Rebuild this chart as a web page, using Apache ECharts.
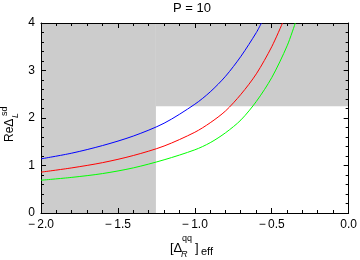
<!DOCTYPE html>
<html>
<head>
<meta charset="utf-8">
<script src="https://cdn.jsdelivr.net/npm/echarts@6/dist/echarts.min.js"></script>
<style>html,body{margin:0;padding:0;background:#fff}#c{width:360px;height:260px}</style>
</head>
<body>
<div id="c"></div>
<script>
var titleText = 'P = 10';
var xTicks = [-2.0, -1.5, -1.0, -0.5, 0.0];
var yTicks = [0, 1, 2, 3, 4];
var xCut = -1.253;
var yCut = 2.25;
var blueX = [-2.0, -1.8, -1.6, -1.4, -1.2, -1.0, -0.9, -0.8, -0.7, -0.6, -0.567];
var blueY = [1.14, 1.26, 1.42, 1.62, 1.89, 2.29, 2.55, 2.88, 3.30, 3.80, 4.0];
var redX = [-2.0, -1.8, -1.6, -1.4, -1.2, -1.0, -0.9, -0.8, -0.7, -0.6, -0.5, -0.43];
var redY = [0.86, 0.95, 1.06, 1.21, 1.41, 1.70, 1.90, 2.15, 2.50, 2.93, 3.50, 4.0];
var greenX = [-2.0, -1.8, -1.6, -1.4, -1.2, -1.0, -0.9, -0.8, -0.7, -0.6, -0.5, -0.4, -0.347];
var greenY = [0.69, 0.75, 0.83, 0.95, 1.12, 1.33, 1.48, 1.69, 1.96, 2.35, 2.85, 3.52, 4.0];

function pairs(xs, ys) { return xs.map(function (x, i) { return [x, ys[i]]; }); }
var FONT = 'Liberation Sans';
function fmtX(v) { return (v < 0 ? '\u2212\u2009' : '') + Math.abs(v).toFixed(1); }

var xMin = xTicks[0], xMax = xTicks[xTicks.length - 1];
var yMin = yTicks[0], yMax = yTicks[yTicks.length - 1];
var xStep = xTicks[1] - xTicks[0], yStep = yTicks[1] - yTicks[0];
var grayRects = [[xMin, yMin, xCut, yMax], [xCut, yCut, xMax, yMax]];

// minor tick positions: [x, y, side] side 0=bottom 1=top 2=left 3=right
var MINOR = 5;
var minorData = [];
(function () {
  var i, k, v;
  for (i = 0; i < xTicks.length - 1; i++) for (k = 1; k < MINOR; k++) {
    v = xTicks[i] + k * xStep / MINOR;
    minorData.push([v, yMin, 0]); minorData.push([v, yMax, 1]);
  }
  for (i = 0; i < yTicks.length - 1; i++) for (k = 1; k < MINOR; k++) {
    v = yTicks[i] + k * yStep / MINOR;
    minorData.push([xMin, v, 2]); minorData.push([xMax, v, 3]);
  }
})();

var chart = echarts.init(document.getElementById('c'), null, {renderer: 'canvas'});

function axisBase(extra) {
  return Object.assign({
    type: 'value',
    axisLine: {show: true, onZero: false, lineStyle: {color: '#000', width: 1}},
    axisTick: {show: true, inside: true, length: 5, lineStyle: {color: '#000', width: 1}},
    splitLine: {show: false}
  }, extra);
}

chart.setOption({
  animation: false,
  grid: {left: 41, right: 11, top: 23, bottom: 47},
  xAxis: [
    axisBase({min: xMin, max: xMax, interval: xStep, position: 'bottom',
      axisLabel: {show: true, margin: 6, color: '#000', fontSize: 12, fontFamily: FONT, formatter: fmtX}}),
    axisBase({min: xMin, max: xMax, interval: xStep, position: 'top', axisLabel: {show: false}})
  ],
  yAxis: [
    axisBase({min: yMin, max: yMax, interval: yStep, position: 'left',
      axisLabel: {show: true, margin: 6, color: '#000', fontSize: 12, fontFamily: FONT}}),
    axisBase({min: yMin, max: yMax, interval: yStep, position: 'right', axisLabel: {show: false}})
  ],
  series: [
    {type: 'custom', silent: true, z: 0, clip: false,
      data: grayRects,
      renderItem: function (params, api) {
        var p0 = api.coord([api.value(0), api.value(1)]);
        var p1 = api.coord([api.value(2), api.value(3)]);
        return {type: 'rect',
          shape: {x: Math.min(p0[0], p1[0]), y: Math.min(p0[1], p1[1]),
                  width: Math.abs(p1[0] - p0[0]), height: Math.abs(p1[1] - p0[1])},
          style: {fill: '#cccccc'}};
      }},
    {type: 'line', data: pairs(blueX, blueY), smooth: 0.3, showSymbol: false,
      lineStyle: {color: '#0000ff', width: 1}},
    {type: 'line', data: pairs(redX, redY), smooth: 0.3, showSymbol: false,
      lineStyle: {color: '#ff0000', width: 1}},
    {type: 'line', data: pairs(greenX, greenY), smooth: 0.3, showSymbol: false,
      lineStyle: {color: '#00ff00', width: 1}},
    {type: 'custom', clip: false, data: minorData,
      renderItem: function (params, api) {
        var p = api.coord([api.value(0), api.value(1)]);
        var side = api.value(2), L = 3;
        var x = Math.floor(p[0]) + 0.5, y = Math.floor(p[1]) + 0.5;
        var s;
        if (side === 0) s = {x1: x, y1: p[1], x2: x, y2: p[1] - L};
        else if (side === 1) s = {x1: x, y1: p[1], x2: x, y2: p[1] + L};
        else if (side === 2) s = {x1: p[0], y1: y, x2: p[0] + L, y2: y};
        else s = {x1: p[0], y1: y, x2: p[0] - L, y2: y};
        return {type: 'line', shape: s, style: {stroke: '#000', lineWidth: 1}};
      }}
  ],
  graphic: [
    {type: 'text', x: 192, y: 8, style: {text: titleText, fontSize: 13, fontFamily: FONT, fill: '#000', align: 'center', verticalAlign: 'middle'}},
    {type: 'text', x: 170, y: 248, style: {text: '[\u0394', fontSize: 13, fontFamily: FONT, fill: '#000', align: 'left', verticalAlign: 'middle'}},
    {type: 'text', x: 182, y: 239, style: {text: 'qq', fontSize: 9, fontFamily: FONT, fill: '#000', align: 'left', verticalAlign: 'middle'}},
    {type: 'text', x: 181, y: 254, style: {text: 'R', fontSize: 9, fontStyle: 'italic', fontFamily: FONT, fill: '#000', align: 'left', verticalAlign: 'middle'}},
    {type: 'text', x: 195, y: 248, style: {text: ']', fontSize: 13, fontFamily: FONT, fill: '#000', align: 'left', verticalAlign: 'middle'}},
    {type: 'text', x: 201, y: 252, style: {text: 'eff', fontSize: 11, fontFamily: FONT, fill: '#000', align: 'left', verticalAlign: 'middle'}},
    {type: 'text', x: 10, y: 142, rotation: Math.PI / 2, style: {text: 'Re\u0394', fontSize: 12, fontFamily: FONT, fill: '#000', align: 'left', verticalAlign: 'middle'}},
    {type: 'text', x: 15, y: 118, rotation: Math.PI / 2, style: {text: 'L', fontSize: 9, fontStyle: 'italic', fontFamily: FONT, fill: '#000', align: 'left', verticalAlign: 'middle'}},
    {type: 'text', x: 5, y: 116, rotation: Math.PI / 2, style: {text: 'sd', fontSize: 9, fontFamily: FONT, fill: '#000', align: 'left', verticalAlign: 'middle'}}
  ]
});
</script>
</body>
</html>
